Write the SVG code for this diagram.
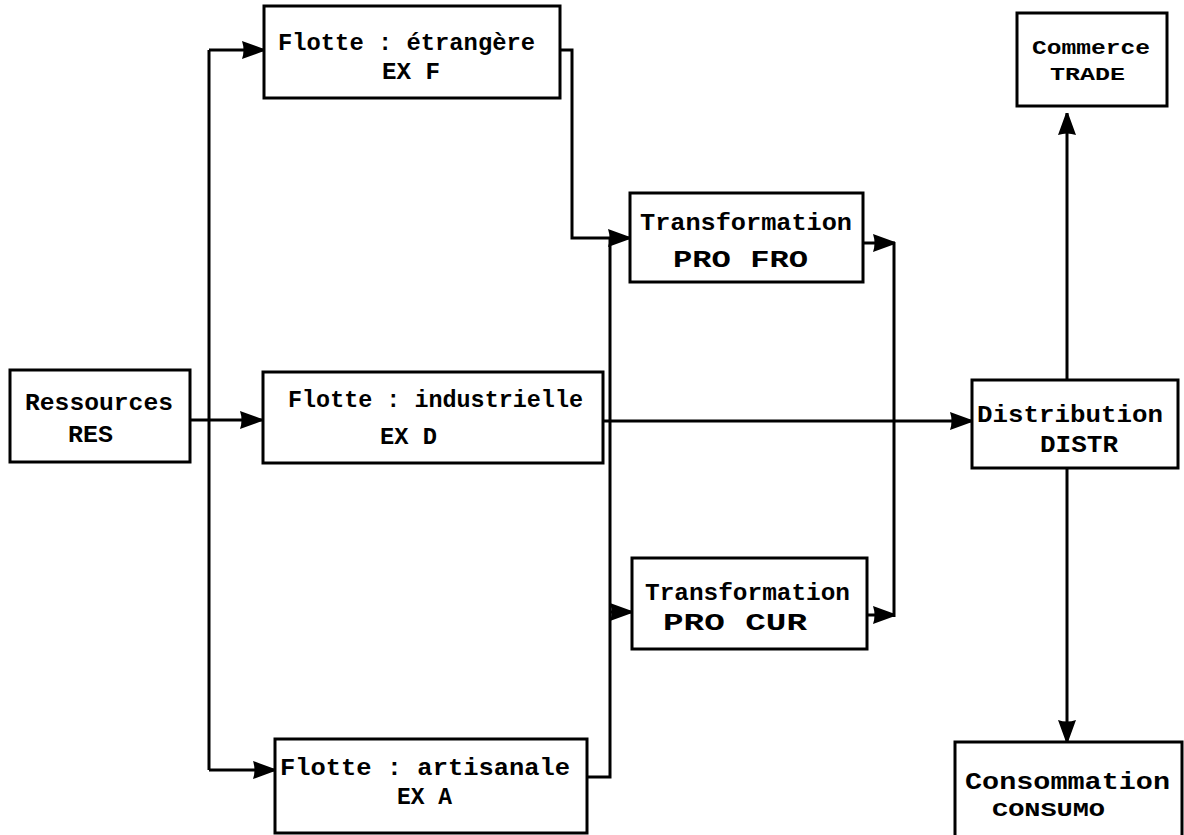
<svg xmlns="http://www.w3.org/2000/svg" width="1184" height="835" viewBox="0 0 1184 835">
<style>
.box{fill:#fff;stroke:#000;stroke-width:3}
.t{font-family:"Liberation Mono","DejaVu Sans Mono",monospace;font-weight:bold;font-size:24px;fill:#000;dominant-baseline:central}
.c{fill:none;stroke:#000;stroke-width:3}
</style>
<defs>
<marker id="ah" markerUnits="userSpaceOnUse" markerWidth="24" markerHeight="20" refX="23" refY="10" orient="auto" viewBox="0 0 24 20">
<path d="M1,1 Q4,10 1,19 L23,11 L23,9 z" fill="#000"/>
</marker>
</defs>
<g id="connectors">
<path class="c" d="M190,420 H262" marker-end="url(#ah)"/>
<path class="c" d="M209,50 V770"/>
<path class="c" d="M209,50 H264" marker-end="url(#ah)"/>
<path class="c" d="M209,770 H275" marker-end="url(#ah)"/>
<path class="c" d="M560,50 H572 V238 H630" marker-end="url(#ah)"/>
<path class="c" d="M587,777 H610 V238"/>
<path class="c" d="M610,612 H632" marker-end="url(#ah)"/>
<path class="c" d="M603,421 H972" marker-end="url(#ah)"/>
<path class="c" d="M894,242 V617"/>
<path class="c" d="M863,243 H895" marker-end="url(#ah)"/>
<path class="c" d="M867,615 H895" marker-end="url(#ah)"/>
<path class="c" d="M1067,380 V113" marker-end="url(#ah)"/>
<path class="c" d="M1067,468 V742" marker-end="url(#ah)"/>
</g>
<g id="res">
<rect class="box" x="10" y="370" width="180" height="92"/>
<text class="t" x="25" y="403" textLength="148" lengthAdjust="spacingAndGlyphs">Ressources</text>
<text class="t" x="68" y="435" textLength="45" lengthAdjust="spacingAndGlyphs">RES</text>
</g>
<g id="exf">
<rect class="box" x="264" y="6" width="296" height="92"/>
<text class="t" x="278" y="43" textLength="257" lengthAdjust="spacingAndGlyphs">Flotte : étrangère</text>
<text class="t" x="382" y="72" textLength="58" lengthAdjust="spacingAndGlyphs">EX F</text>
</g>
<g id="exd">
<rect class="box" x="263" y="372" width="340" height="91"/>
<text class="t" x="288" y="400" textLength="295" lengthAdjust="spacingAndGlyphs">Flotte : industrielle</text>
<text class="t" x="380" y="437" textLength="57" lengthAdjust="spacingAndGlyphs">EX D</text>
</g>
<g id="exa">
<rect class="box" x="275" y="739" width="312" height="94"/>
<text class="t" x="280" y="768" textLength="290" lengthAdjust="spacingAndGlyphs">Flotte : artisanale</text>
<text class="t" x="397" y="797" textLength="55" lengthAdjust="spacingAndGlyphs">EX A</text>
</g>
<g id="profro">
<rect class="box" x="630" y="193" width="233" height="89"/>
<text class="t" x="640" y="223" textLength="212" lengthAdjust="spacingAndGlyphs">Transformation</text>
<text class="t" x="673" y="260" textLength="135" lengthAdjust="spacingAndGlyphs">PRO FRO</text>
</g>
<g id="procur">
<rect class="box" x="632" y="558" width="235" height="91"/>
<text class="t" x="645" y="593" textLength="205" lengthAdjust="spacingAndGlyphs">Transformation</text>
<text class="t" x="663" y="623" textLength="144" lengthAdjust="spacingAndGlyphs">PRO CUR</text>
</g>
<g id="distr">
<rect class="box" x="972" y="380" width="206" height="88"/>
<text class="t" x="977" y="415" textLength="186" lengthAdjust="spacingAndGlyphs">Distribution</text>
<text class="t" x="1040" y="445" textLength="78" lengthAdjust="spacingAndGlyphs">DISTR</text>
</g>
<g id="trade">
<rect class="box" x="1017" y="13" width="150" height="93"/>
<text class="t" x="1032" y="48" textLength="118" lengthAdjust="spacingAndGlyphs" style="font-size:21px">Commerce</text>
<text class="t" x="1050" y="75" textLength="75" lengthAdjust="spacingAndGlyphs" style="font-size:18px">TRADE</text>
</g>
<g id="consumo">
<rect class="box" x="955" y="742" width="227" height="100"/>
<text class="t" x="965" y="782" textLength="205" lengthAdjust="spacingAndGlyphs">Consommation</text>
<text class="t" x="992" y="810" textLength="113" lengthAdjust="spacingAndGlyphs" style="font-size:20px">CONSUMO</text>
</g>
</svg>
